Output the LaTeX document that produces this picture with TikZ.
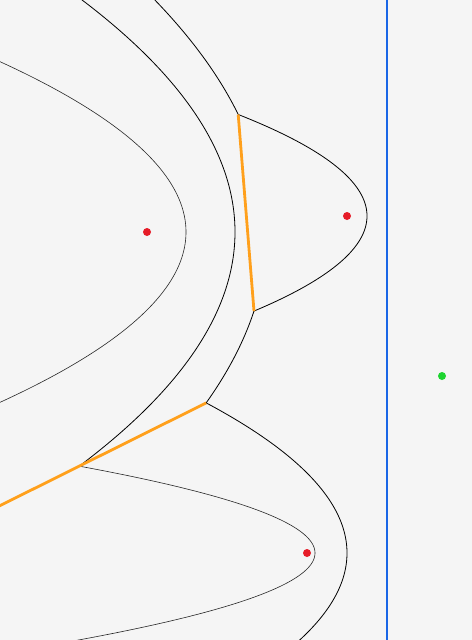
\documentclass[tikz,border=0pt]{standalone}
\definecolor{bg}{RGB}{245,245,245}
\definecolor{edgeO}{RGB}{255,160,28}
\definecolor{sweepB}{RGB}{26,102,230}
\definecolor{siteR}{RGB}{230,28,40}
\definecolor{pointG}{RGB}{30,212,48}
\begin{document}
\begin{tikzpicture}[x=10bp,y=-10bp,
  curve/.style={draw=black, line width=0.8bp},
  oldcurve/.style={draw=black!85, line width=0.6bp},
  vedge/.style={draw=edgeO, line width=2.8bp},
  sweep/.style={draw=sweepB, line width=2.8bp},
  site/.style={circle, fill=siteR, inner sep=0pt, minimum size=8bp},
  probe/.style={circle, fill=pointG, inner sep=0pt, minimum size=8bp}]
\fill[bg] (0,0) rectangle (47.2,64);
\useasboundingbox (0,0) rectangle (47.2,64);
\clip (0,0) rectangle (47.2,64);
% older beach lines
\draw[oldcurve] plot[domain=4:43, samples=150, variable=\t] ({18.6-((\t-23.2)*(\t-23.2))/15.6},\t);
\draw[curve] plot[domain=-0.5:46.615, samples=150, variable=\t] ({23.5-((\t-23.2)*(\t-23.2))/35.2},\t);
\draw[oldcurve] plot[domain=46.615:64.5, samples=150, variable=\t] ({31.5-((\t-55.3)*(\t-55.3))/3.2},\t);
% current beach line
\draw[curve] plot[domain=-0.5:11.45, samples=80, variable=\t] ({26.7-((\t-23.2)*(\t-23.2))/48},\t);
\draw[curve] plot[domain=11.45:31.11, samples=120, variable=\t] ({36.7-((\t-21.6)*(\t-21.6))/8},\t);
\draw[curve] plot[domain=31.11:40.29, samples=60, variable=\t] ({26.7-((\t-23.2)*(\t-23.2))/48},\t);
\draw[curve] plot[domain=40.29:64.5, samples=120, variable=\t] ({34.7-((\t-55.3)*(\t-55.3))/16},\t);
% breakpoints
\coordinate (b12a) at (23.82,11.45);
\coordinate (b12b) at (25.40,31.11);
\coordinate (b13) at (20.62,40.29);
\coordinate (e13) at (-1,51.06);
% Voronoi edges
\draw[vedge] (b12a) -- (b12b);
\draw[vedge] (b13) -- (e13);
% sweep line
\coordinate (sTop) at (38.7,0);
\coordinate (sBot) at (38.7,64);
\draw[sweep] (sTop) -- (sBot);
% sites
\node[site] (s1) at (14.7,23.2) {};
\node[site] (s2) at (34.7,21.6) {};
\node[site] (s3) at (30.7,55.3) {};
\node[probe] (g) at (44.2,37.6) {};
\end{tikzpicture}
\end{document}
